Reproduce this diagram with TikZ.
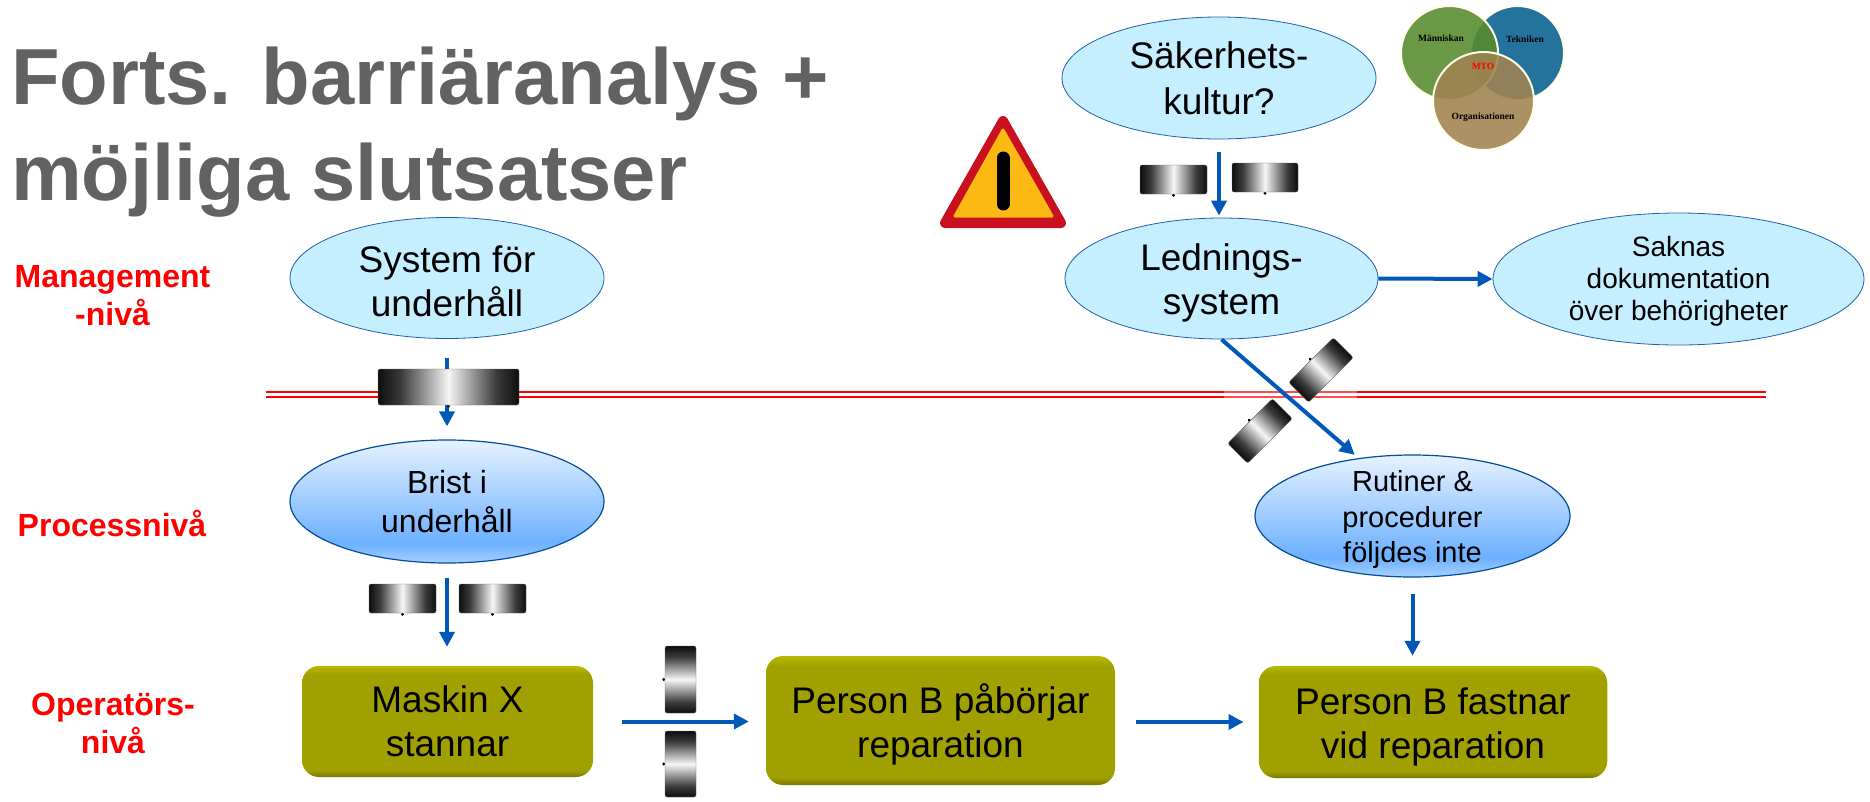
\documentclass[tikz,border=0pt]{standalone}
\usepackage{fontspec}
\setmainfont{Liberation Sans}
\newfontfamily\vennfont{Liberation Serif}
\usetikzlibrary{arrows.meta,shapes.geometric,calc}
\definecolor{flowblue}{HTML}{0058B8}
\definecolor{paleblue}{HTML}{C5EEFF}
\definecolor{edgeblue}{HTML}{1F5FA8}
\definecolor{faultedge}{HTML}{004E9A}
\definecolor{fadetop}{HTML}{E6F2FF}
\definecolor{fademid}{HTML}{6CB0FF}
\definecolor{fadelow}{HTML}{A8D0FF}
\definecolor{boxolive}{HTML}{A0A000}
\definecolor{olivelight}{HTML}{B4BA00}
\definecolor{olivedark}{HTML}{787800}
\definecolor{titlegray}{HTML}{616264}
\definecolor{signred}{HTML}{C8101E}
\definecolor{signyellow}{HTML}{FDB913}
\definecolor{vennM}{HTML}{578A2C}
\definecolor{vennT}{HTML}{04608F}
\definecolor{vennO}{HTML}{A08250}
\definecolor{barreldark}{HTML}{0E0E0E}
\definecolor{barrelmid}{HTML}{3A3A3A}
\definecolor{barrellight}{HTML}{F6F6F6}
\pgfdeclareverticalshading{bluefade}{100bp}{color(0bp)=(fadelow); color(25bp)=(fadelow); color(33bp)=(fademid); color(75bp)=(fadetop); color(100bp)=(fadetop)}
\pgfdeclareverticalshading{bevel}{100bp}{color(0bp)=(olivedark); color(25bp)=(olivedark); color(28bp)=(boxolive); color(71bp)=(boxolive); color(75bp)=(olivelight); color(100bp)=(olivelight)}
\pgfdeclarehorizontalshading{barrel}{100bp}{color(0bp)=(barreldark); color(25bp)=(barreldark); color(33bp)=(barrelmid); color(50bp)=(barrellight); color(67bp)=(barrelmid); color(75bp)=(barreldark); color(100bp)=(barreldark)}
\newcommand\droptext[1]{\rule{0pt}{#1pt}}

\begin{document}
\begin{tikzpicture}[x=1pt,y=-1pt]
	\tikzset{>={Triangle[length=15pt,width=15pt]}}
	\tikzset{
		bigtext/.style={font=\fontsize{37}{44}\selectfont,align=center},
		titletext/.style={anchor=base west,inner sep=0pt,text=titlegray,font=\fontsize{79.5}{95}\selectfont\bfseries},
		levellabel/.style={font=\fontsize{32}{38}\selectfont\bfseries,text=red,align=center,inner sep=0pt},
		oval/.style={ellipse,inner sep=-20pt,minimum width=314pt,minimum height=122pt,draw=edgeblue,line width=.8pt,align=center},
		cause/.style={oval,fill=paleblue,bigtext},
		fault/.style={oval,shade,shading=bluefade,draw=faultedge,line width=1.2pt},
		event/.style={rectangle,rounded corners=17pt,shade,shading=bevel,inner sep=0pt,bigtext},
		flow/.style={->,draw=flowblue,fill=flowblue,line width=4pt},
		barrier/.style={rectangle,rounded corners=2pt,inner sep=0pt,shade,shading=barrel,draw=black!60,line width=.4pt},
		vennpart/.style={draw=yellow!10!white,line width=2pt,fill opacity=.88},
		venntext/.style={font=\fontsize{9.5}{11}\vennfont\bfseries\selectfont,inner sep=0pt}
	}
	\useasboundingbox (0,0) rectangle (1870,801);

	% title
	\node[titletext] (title1) at (11,104) {Forts. barriäranalys +};
	\node[titletext] (title2) at (11,200) {möjliga slutsatser};

	% levels
	\node[levellabel] (mgmt) at (112.5,296) {Management\\-nivå};
	\node[levellabel] (proc) at (112,523.5) {Processnivå};
	\node[levellabel] (oper) at (113,723.5) {Operatörs-\\nivå};

	% double line
	\coordinate (lineL) at (266,394.5);
	\coordinate (lineR) at (1766,394.5);
	\draw[draw=red,double=white,double distance=3pt,line width=1.7pt] (lineL) -- (lineR);
	\fill[white,opacity=.3] (1224,390) rectangle (1357,399);

	% ovals
	\node[cause,font=\fontsize{37}{46}\selectfont] (kultur) at (1219,78) {Säkerhets-\\kultur?};
	\node[cause,minimum width=313pt,minimum height=121pt] (ledning) at (1221.5,278.5) {\droptext{35}Lednings-\\system};
	\node[oval,fill=paleblue,minimum width=371pt,minimum height=132pt,font=\fontsize{28}{32}\selectfont] (saknas) at (1678.5,279) {\droptext{24.5}Saknas\\dokumentation\\över behörigheter};
	\node[cause,minimum height=121pt] (system) at (447,278) {\droptext{33}System för\\underhåll};
	\node[fault,minimum height=123pt,font=\fontsize{32}{39.5}\selectfont] (brist) at (447,501.5) {Brist i\\underhåll};
	\node[fault,minimum width=315pt,font=\fontsize{29}{35.5}\selectfont] (rutiner) at (1412.5,516) {\droptext{28}Rutiner \&\\procedurer\\följdes inte};

	% boxes
	\node[event,minimum width=291pt,minimum height=111pt] (maskin) at (447.5,721.5) {Maskin X\\stannar};
	\node[event,minimum width=349pt,minimum height=129pt] (borjar) at (940.5,720.5) {\droptext{37}Person B påbörjar\\reparation};
	\node[event,minimum width=348.5pt,minimum height=112pt] (fastnar) at (1433,722) {\droptext{36}Person B fastnar\\vid reparation};

	% arrows
	\draw[flow,shorten <=13pt,shorten >=2pt] (kultur.south) -- (kultur.south |- ledning.north);
	\draw[flow] (ledning.east) -- (saknas.west);
	\draw[flow,shorten >=5pt] (ledning.south) -- (rutiner.133);
	\draw[flow,shorten <=19.5pt,shorten >=13pt] (system.south) -- (system.south |- brist.north);
	\draw[flow,shorten <=14pt,shorten >=19pt] (brist.south) -- (brist.south |- maskin.north);
	\draw[flow,shorten <=16pt,shorten >=10pt] (rutiner.south) -- (rutiner.south |- fastnar.north);
	\draw[flow,shorten <=29pt,shorten >=17pt] (maskin.east) -- (maskin.east -| borjar.west);
	\draw[flow,shorten <=21pt,shorten >=15pt] (borjar.east |- fastnar.west) -- (fastnar.west);

	% barriers
	\foreach \name/\bx/\by/\bw/\bh/\bang in {
		bA/1173.5/179.5/67/29/0, bB/1265/177.5/66/29/0,
		bC/448.5/387/141/36/0,
		bD/402.5/598.5/67/29/0, bE/492.5/598.5/67/29/0,
		bF/680.5/679.5/67/31/-90, bG/680.5/764/66/31/-90,
		bH/1321/370/63/28/225, bI/1260/431/63/28/225} {
		\begin{scope}[transform canvas={shift={(\bx,\by)},rotate=\bang}]
			\fill[black] ($(0,\bh/2)+(0,1.2)$) circle (1.6pt);
			\node[barrier,minimum width=\bw pt,minimum height=\bh pt] (\name) at (0,0) {};
		\end{scope}
	}

	% warning sign
	\fill[signred,draw=signred,line width=10pt,line join=round] (1003,121) -- (1061,223) -- (945,223) -- cycle;
	\fill[signyellow,draw=signyellow,line width=3pt,line join=round] (1003,130) -- (1052,216) -- (955,216) -- cycle;
	\draw[black,line width=13pt,line cap=round] (1003,158) -- (1003,204);

	% venn
	\fill[vennT,vennpart] (1517.5,53) ellipse (46.5 and 47);
	\fill[vennM,vennpart] (1449.5,53) ellipse (48.5 and 47);
	\fill[vennO,vennpart] (1483.5,101) ellipse (50.5 and 49);
	\node[venntext] (mann) at (1441,38) {Människan};
	\node[venntext] (tek) at (1525,39) {Tekniken};
	\node[venntext,text=red] (mto) at (1483,66) {MTO};
	\node[venntext] (org) at (1483,117) {Organisationen};
\end{tikzpicture}
\end{document}
